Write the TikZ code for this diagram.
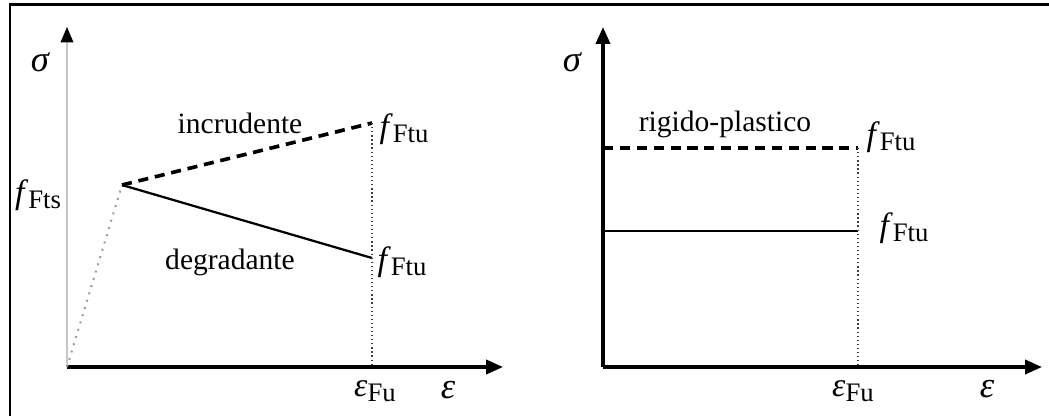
\documentclass[tikz,border=0pt]{standalone}
\usepackage{fontspec}
\setmainfont{Liberation Serif}
\usetikzlibrary{arrows.meta}
\newcommand{\symsub}[2]{{\fontsize{12}{13}\selectfont\textit{#1}}\raisebox{-0.4ex}{\fontsize{9.5}{11}\selectfont #2}}

\begin{document}
\begin{tikzpicture}[
  x=0.0125cm, y=-0.0125cm,
  font=\fontsize{10.5}{12}\selectfont,
  greek/.style={font=\fontsize{13}{14}\selectfont\itshape},
  axis/.style={line width=1.2pt, -{Triangle[length=6pt,width=5pt]}},
  softaxis/.style={line width=0.6pt, draw=gray!45, -{Triangle[length=5.5pt,width=4.5pt,black]}},
  guide/.style={densely dotted, line width=0.45pt, draw=black!75},
  rise/.style={dotted, line width=0.7pt, draw=gray!80},
  hardening/.style={line width=1.3pt, dash pattern=on 3.6pt off 2.4pt},
  softening/.style={line width=0.8pt}
]
\useasboundingbox (0,0) rectangle (1049,416);
\draw[line width=0.8pt] (10,416) -- (10,4.5) -- (1049,4.5);

% left diagram
\coordinate (o1) at (67,367);
\coordinate (ytop1) at (67,27);
\coordinate (xend1) at (503,367);
\coordinate (peak) at (122,185);
\coordinate (uptop) at (372,123);
\coordinate (downend) at (372,258);
\coordinate (ufoot1) at (372,367);

\draw[softaxis] (o1) -- (ytop1);
\draw[axis] (o1) -- (xend1);
\draw[rise] (o1) -- (peak);
\draw[hardening] (peak) -- (uptop);
\draw[softening] (peak) -- (downend);
\draw[guide] (uptop) -- (ufoot1);

\node[greek] (sig1) at (40,62) {σ};
\node (fts) at (38,195) {\symsub{f}{Fts}};
\node (incr) at (240,123) {incrudente};
\node (degr) at (230,262) {degradante};
\node (ftuA) at (404,129) {\symsub{f}{Ftu}};
\node (ftuB) at (402,262) {\symsub{f}{Ftu}};
\node (epsu1) at (375,391) {\symsub{ε}{Fu}};
\node[greek] (eps1) at (448,390) {ε};

% right diagram
\coordinate (o2) at (603,367);
\coordinate (ytop2) at (603,27);
\coordinate (xend2) at (1042,367);
\coordinate (dashL) at (603,148);
\coordinate (dashR) at (858,148);
\coordinate (solL) at (603,231);
\coordinate (solR) at (858,231);
\coordinate (ufoot2) at (858,367);

\draw[axis] (o2) -- (ytop2);
\draw[axis] (o2) -- (xend2);
\draw[hardening] (dashL) -- (dashR);
\draw[softening] (solL) -- (solR);
\draw[guide] (dashR) -- (ufoot2);

\node[greek] (sig2) at (572,62) {σ};
\node (rigid) at (725,124) {rigido-plastico};
\node (ftuC) at (891,137) {\symsub{f}{Ftu}};
\node (ftuD) at (904,228) {\symsub{f}{Ftu}};
\node (epsu2) at (853,391) {\symsub{ε}{Fu}};
\node[greek] (eps2) at (987,389) {ε};
\end{tikzpicture}
\end{document}
